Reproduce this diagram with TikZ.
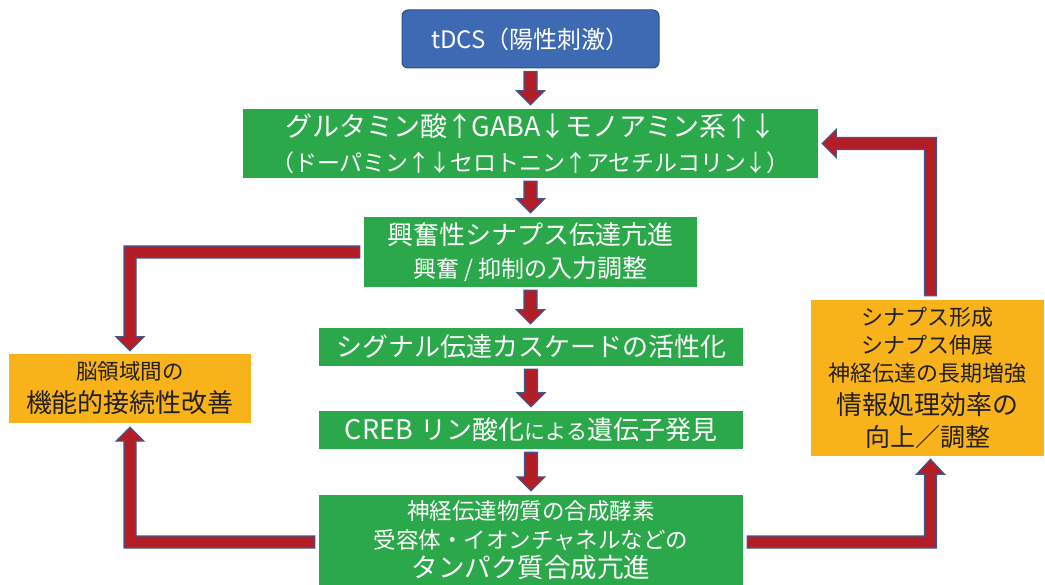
\documentclass[tikz,border=0pt]{standalone}
\usepackage{fontspec}
\setmainfont{Noto Sans CJK JP}
\usetikzlibrary{calc}
\definecolor{boxblue}{HTML}{3D6AB3}
\definecolor{boxblueline}{HTML}{2F4E85}
\definecolor{boxgreen}{HTML}{2BA84A}
\definecolor{boxorange}{HTML}{F7B319}
\definecolor{arrowred}{HTML}{B31D25}
\definecolor{arrowline}{HTML}{3A5A95}
\definecolor{darktext}{HTML}{231F20}
\newcommand\nup{\makebox[0.9em]{↑}}
\newcommand\ndn{\makebox[0.9em]{↓}}
\newcommand\blockdown[2]{%
  \coordinate (bdS) at (#1);
  \coordinate (bdT) at (#1 |- #2);
  \draw[barrow] ($(bdS)+(-6.5,3)$) -- ($(bdS)+(6.5,3)$) -- ($(bdT)+(6.5,-18)$)
    -- ($(bdT)+(14,-18)$) -- ($(bdT)+(0,-4)$) -- ($(bdT)+(-14,-18)$)
    -- ($(bdT)+(-6.5,-18)$) -- cycle;}
\begin{document}
\begin{tikzpicture}[x=1pt,y=-1pt,
  gbox/.style={fill=boxgreen, text=white, inner sep=0pt, align=center},
  obox/.style={fill=boxorange, text=darktext, inner sep=0pt, align=center},
  tbox/.style={fill=boxblue, draw=boxblueline, line width=1pt, rounded corners=6pt, text=white, inner sep=0pt, align=center},
  barrow/.style={fill=arrowred, draw=arrowline, line width=1.1pt, line join=miter}]
\useasboundingbox (0,0) rectangle (1045,585);

\node[tbox, minimum width=257, minimum height=58, font={\fontsize{24}{28}\selectfont}] (tdcs) at (530.5,39) {tDCS（陽性刺激）};

\node[gbox, minimum width=575, minimum height=69, font={\fontsize{27}{35}\selectfont}] (b1) at (530.5,143.5)
  {グルタミン酸\nup GABA\ndn モノアミン系\nup\ndn\\
   {\fontsize{23}{35}\selectfont （ドーパミン\nup\ndn セロトニン\nup アセチルコリン\ndn）}};

\node[gbox, minimum width=333, minimum height=70, font={\fontsize{26}{33}\selectfont}] (b2) at (530.5,252)
  {興奮性シナプス伝達亢進\\
   {\fontsize{23}{33}\selectfont 興奮 / 抑制の}{\fontsize{25}{33}\selectfont 入力調整}};

\node[gbox, minimum width=424, minimum height=38, font={\fontsize{26}{30}\selectfont}] (b3) at (531,347)
  {シグナル伝達カスケードの活性化};

\node[gbox, minimum width=424, minimum height=38, font={\fontsize{26}{30}\selectfont}] (b4) at (531,430)
  {{\fontsize{27}{30}\selectfont CREB}\hspace{0.3em}リン酸化{\fontsize{21}{30}\selectfont による}遺伝子発見};

\node[gbox, minimum width=424, minimum height=90, font={\fontsize{22.5}{29}\selectfont}] (b5) at (531,540)
  {神経伝達物質の合成酵素\\
   受容体・イオンチャネルなどの\\
   {\fontsize{26.5}{29}\selectfont タンパク質合成亢進}};

\node[obox, minimum width=242, minimum height=69, font={\fontsize{26}{33}\selectfont}] (lo) at (130,388.5)
  {{\fontsize{21.5}{33}\selectfont 脳領域間の}\\機能的接続性改善};

\node[obox, minimum width=233, minimum height=156, font={\fontsize{22}{28}\selectfont}] (ro) at (927.5,378)
  {シナプス形成\\シナプス伸展\\神経伝達の長期増強\\[5pt]
   {\fontsize{26}{28}\selectfont 情報処理効率の}\\[4pt]
   {\fontsize{25}{28}\selectfont 向上／調整}};

% straight arrows
\blockdown{tdcs.south}{b1.north}
\blockdown{b1.south}{b2.north}
\blockdown{b2.south}{b3.north}
\blockdown{b3.south}{b4.north}
\blockdown{b4.south}{b5.north}

% top-left elbow: b2 -> lo
\coordinate (s1) at (b2.west);
\coordinate (t1) at (lo.north);
\coordinate (c1) at (t1 |- s1);
\draw[barrow] ($(s1)+(-4,-6)$) -- ($(c1)+(-6,-6)$) -- ($(t1)+(-6,-17)$) -- ($(t1)+(-14,-17)$)
  -- ($(t1)+(0,-3)$) -- ($(t1)+(14,-17)$) -- ($(t1)+(6,-17)$) -- ($(c1)+(6,6)$)
  -- ($(s1)+(-4,6)$) -- cycle;

% bottom-left elbow: b5 -> lo
\coordinate (s2) at ($(b5.west)+(0,2)$);
\coordinate (t2) at (lo.south);
\coordinate (c2) at (t2 |- s2);
\draw[barrow] ($(s2)+(-4,-6)$) -- ($(c2)+(6,-6)$) -- ($(t2)+(6,18)$) -- ($(t2)+(14,18)$)
  -- ($(t2)+(0,4)$) -- ($(t2)+(-14,18)$) -- ($(t2)+(-6,18)$) -- ($(c2)+(-6,6)$)
  -- ($(s2)+(-4,6)$) -- cycle;

% bottom-right elbow: b5 -> ro
\coordinate (s3) at ($(b5.east)+(0,2)$);
\coordinate (t3) at ($(ro.south)+(3,0)$);
\coordinate (c3) at (t3 |- s3);
\draw[barrow] ($(s3)+(4,-6)$) -- ($(c3)+(-6,-6)$) -- ($(t3)+(-6,18)$) -- ($(t3)+(-14,18)$)
  -- ($(t3)+(0,3)$) -- ($(t3)+(14,18)$) -- ($(t3)+(6,18)$) -- ($(c3)+(6,6)$)
  -- ($(s3)+(4,6)$) -- cycle;

% top-right elbow: ro -> b1
\coordinate (s4) at ($(ro.north)+(3,0)$);
\coordinate (t4) at (b1.east);
\coordinate (c4) at (s4 |- t4);
\draw[barrow] ($(s4)+(-6,-4)$) -- ($(c4)+(-6,6)$) -- ($(t4)+(18,6)$) -- ($(t4)+(18,14)$)
  -- ($(t4)+(4,0)$) -- ($(t4)+(18,-14)$) -- ($(t4)+(18,-6)$) -- ($(c4)+(6,-6)$)
  -- ($(s4)+(6,-4)$) -- cycle;
\end{tikzpicture}
\end{document}
